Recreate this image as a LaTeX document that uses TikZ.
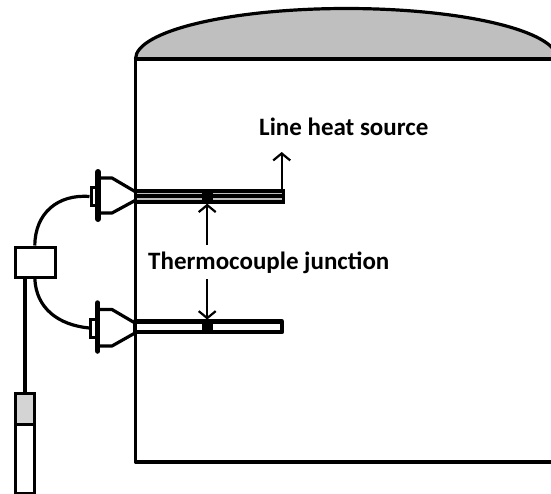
\documentclass[tikz,border=0pt]{standalone}
\usepackage{fontspec}
\setmainfont{Carlito}
\usetikzlibrary{arrows.meta,calc}
\definecolor{domegray}{gray}{0.75}
\definecolor{sensorgray}{gray}{0.83}
\tikzset{
  heavy/.style={draw=black,line width=3.2pt,line join=round},
  medium/.style={draw=black,line width=3.2pt,line join=round},
  pointer/.style={draw=black,line width=1.8pt,-{Straight Barb[length=7pt,width=17pt,line width=2.2pt]}},
  label/.style={font=\fontsize{25}{28}\selectfont\bfseries,inner sep=0pt,anchor=base west},
  block/.style={fill=black,draw=none,minimum width=11pt,inner sep=0pt},
  boxnode/.style={draw=black,line width=3pt,fill=white,inner sep=0pt,anchor=north west},
  flange/.style={draw=black,line width=6pt,line cap=round},
}
\begin{document}
\begin{tikzpicture}[x=1pt,y=-1pt]
\useasboundingbox (0,0) rectangle (551,493);
% tank and dome
\path[fill=domegray] (135.5,59) arc[start angle=180,end angle=360,x radius=211,y radius=50.5] -- cycle;
\draw[heavy] (135.5,59) arc[start angle=180,end angle=360,x radius=211,y radius=50.5];
\draw[heavy] (552,59) -- (135.5,59) -- (135.5,462) -- (552,462);
% upper heater
\fill[black] (135,189) rectangle (284.5,203.5);
\draw[line width=1.5pt,color=black!25] (137,193.4) -- (282,193.4);
\draw[line width=1.5pt,color=black!25] (137,199.2) -- (282,199.2);
\node[block,minimum height=14.5pt] (jA) at (207.2,196.2) {};
% lower heater
\draw[medium,line width=4.5pt,fill=white] (135,321.7) rectangle (282,332);
\node[block,minimum height=14.5pt] (jB) at (207.2,327) {};
% labels
\node[label] (heat) at (259,135) {Line heat source};
\node[label] (thermo) at (148,269) {Thermocouple junction};
\coordinate (heatend) at (281.7,189);
\coordinate (heattip) at (281.7,152);
\coordinate (thA) at (207.2,245);
\coordinate (thB) at (207.2,279);
\draw[pointer] (heatend) -- (heattip);
\draw[pointer] (thA) -- (jA.south);
\draw[pointer] (thB) -- (jB.north);
% upper connector
\coordinate (uA) at (135,191.5);
\coordinate (uB) at (135,200.5);
\draw[medium] (98,178) -- (112,178) -- (uA);
\draw[medium] (98,213) -- (112,213) -- (uB);
\node[boxnode,minimum width=6pt,minimum height=18pt] (capA) at (89.5,186) {};
\draw[flange] (98,172) -- (98,219);
% lower connector
\draw[medium] (98,309.5) -- (112,309.5) -- (135,323);
\draw[medium] (98,346) -- (112,346) -- (135,333);
\node[boxnode,minimum width=5.5pt,minimum height=18pt] (capB) at (89.3,317.5) {};
\draw[flange,line width=5.5pt] (97.7,303) -- (97.7,351);
% junction box
\node[boxnode,minimum width=39.5pt,minimum height=30pt] (jbox) at (14,245.5) {};
\draw[medium] (capA.west) .. controls (58,194) and (35,213) .. ($(jbox.north west)!0.49!(jbox.north east)$);
\draw[medium] (capB.west) .. controls (58,325) and (36,308) .. ($(jbox.south west)!0.49!(jbox.south east)$);
% probe
\node[boxnode,minimum width=19.5pt,minimum height=31pt,fill=sensorgray] (probeTop) at (13.8,392) {};
\node[boxnode,minimum width=19.5pt,minimum height=68.5pt] (probeBody) at (13.8,423) {};
\draw[medium] (jbox.south -| probeTop.north) -- (probeTop.north);
\end{tikzpicture}
\end{document}
